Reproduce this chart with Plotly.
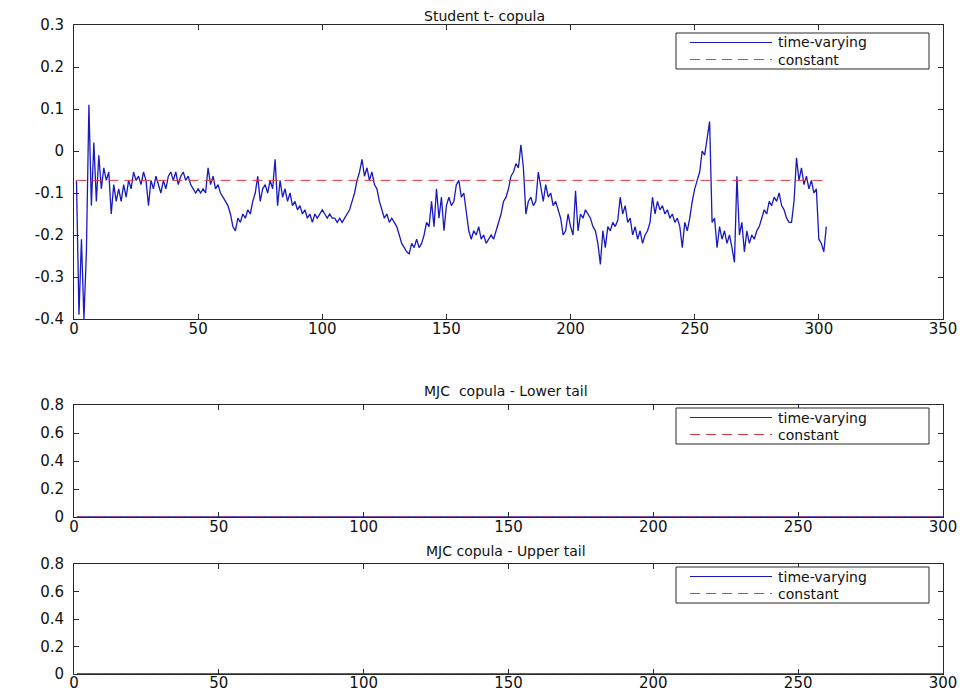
import plotly.graph_objects as go

# ---------------- data ----------------
t = list(range(1, 304))

student_tv = [
    -0.07, -0.39, -0.21, -0.40, -0.24, 0.11, -0.13, 0.02, -0.12, -0.01,
    -0.09, -0.04, -0.07, -0.05, -0.15, -0.08, -0.12, -0.09, -0.12, -0.08,
    -0.11, -0.07, -0.09, -0.05, -0.07, -0.06, -0.08, -0.05, -0.07, -0.13,
    -0.07, -0.09, -0.06, -0.08, -0.10, -0.07, -0.09, -0.06, -0.05, -0.07,
    -0.05, -0.08, -0.06, -0.05, -0.07, -0.06, -0.08, -0.09, -0.10, -0.09,
    -0.10, -0.09, -0.10, -0.04, -0.08, -0.06, -0.09, -0.08, -0.10, -0.11,
    -0.12, -0.13, -0.15, -0.18, -0.19, -0.16, -0.17, -0.15, -0.16, -0.14,
    -0.15, -0.12, -0.10, -0.06, -0.12, -0.09, -0.08, -0.10, -0.07, -0.09,
    -0.02, -0.13, -0.07, -0.11, -0.09, -0.12, -0.10, -0.13, -0.12, -0.14,
    -0.13, -0.15, -0.14, -0.16, -0.15, -0.17, -0.15, -0.16, -0.15, -0.14,
    -0.15, -0.16, -0.15, -0.16, -0.16, -0.17, -0.16, -0.17, -0.16, -0.15,
    -0.14, -0.12, -0.10, -0.07, -0.05, -0.02, -0.06, -0.04, -0.07, -0.05,
    -0.08, -0.09, -0.12, -0.14, -0.16, -0.15, -0.17, -0.16, -0.17, -0.18,
    -0.20, -0.22, -0.23, -0.24, -0.245, -0.22, -0.23, -0.21, -0.23, -0.22,
    -0.20, -0.17, -0.18, -0.12, -0.18, -0.09, -0.16, -0.11, -0.19, -0.13,
    -0.11, -0.13, -0.12, -0.08, -0.07, -0.11, -0.10, -0.15, -0.19, -0.21,
    -0.19, -0.20, -0.18, -0.21, -0.20, -0.22, -0.21, -0.20, -0.21, -0.19,
    -0.17, -0.15, -0.12, -0.11, -0.09, -0.06, -0.05, -0.03, -0.04, 0.015,
    -0.04, -0.15, -0.12, -0.11, -0.13, -0.12, -0.05, -0.09, -0.12, -0.08,
    -0.11, -0.10, -0.13, -0.12, -0.14, -0.16, -0.20, -0.19, -0.15, -0.18,
    -0.20, -0.095, -0.19, -0.15, -0.16, -0.14, -0.15, -0.16, -0.18, -0.19,
    -0.22, -0.27, -0.19, -0.23, -0.18, -0.19, -0.17, -0.18, -0.165, -0.11,
    -0.15, -0.13, -0.17, -0.16, -0.20, -0.18, -0.21, -0.19, -0.22, -0.20,
    -0.19, -0.17, -0.11, -0.15, -0.12, -0.14, -0.13, -0.15, -0.14, -0.16,
    -0.15, -0.17, -0.16, -0.18, -0.23, -0.17, -0.19, -0.16, -0.12, -0.09,
    -0.07, -0.05, 0.00, -0.01, 0.03, 0.07, -0.17, -0.16, -0.23, -0.18,
    -0.21, -0.19, -0.22, -0.20, -0.23, -0.265, -0.06, -0.20, -0.17, -0.24,
    -0.19, -0.22, -0.20, -0.21, -0.19, -0.18, -0.16, -0.14, -0.15, -0.12,
    -0.13, -0.11, -0.12, -0.10, -0.13, -0.14, -0.16, -0.17, -0.17, -0.12,
    -0.016, -0.07, -0.04, -0.08, -0.06, -0.09, -0.07, -0.10, -0.09, -0.21,
    -0.22, -0.24, -0.18,
]
student_const = -0.07

mjc_lower_tv = [
    0, 0, 0, 0, 0, 0, 0, 0, 0, 0, 0, 0, 0, 0, 0, 0, 0, 0, 0, 0, 0, 0, 0, 0, 0, 0, 0, 0, 0, 0,
    0, 0, 0, 0, 0, 0, 0, 0, 0, 0, 0, 0, 0, 0, 0, 0, 0, 0, 0, 0, 0, 0, 0, 0, 0, 0, 0, 0, 0, 0,
    0, 0, 0, 0, 0, 0, 0, 0, 0, 0, 0, 0, 0, 0, 0, 0, 0, 0, 0, 0, 0, 0, 0, 0, 0, 0, 0, 0, 0, 0,
    0, 0, 0, 0, 0, 0, 0, 0, 0, 0, 0, 0, 0, 0, 0, 0, 0, 0, 0, 0, 0, 0, 0, 0, 0, 0, 0, 0, 0, 0,
    0, 0, 0, 0, 0, 0, 0, 0, 0, 0, 0, 0, 0, 0, 0, 0, 0, 0, 0, 0, 0, 0, 0, 0, 0, 0, 0, 0, 0, 0,
    0, 0, 0, 0, 0, 0, 0, 0, 0, 0, 0, 0, 0, 0, 0, 0, 0, 0, 0, 0, 0, 0, 0, 0, 0, 0, 0, 0, 0, 0,
    0, 0, 0, 0, 0, 0, 0, 0, 0, 0, 0, 0, 0, 0, 0, 0, 0, 0, 0, 0, 0, 0, 0, 0, 0, 0, 0, 0, 0, 0,
    0, 0, 0, 0, 0, 0, 0, 0, 0, 0, 0, 0, 0, 0, 0, 0, 0, 0, 0, 0, 0, 0, 0, 0, 0, 0, 0, 0, 0, 0,
    0, 0, 0, 0, 0, 0, 0, 0, 0, 0, 0, 0, 0, 0, 0, 0, 0, 0, 0, 0, 0, 0, 0, 0, 0, 0, 0, 0, 0, 0,
    0, 0, 0, 0, 0, 0, 0, 0, 0, 0, 0, 0, 0, 0, 0, 0, 0, 0, 0, 0, 0, 0, 0, 0, 0, 0, 0, 0, 0, 0,
    0, 0, 0,
]
mjc_lower_const = 0.0

mjc_upper_tv = [
    0, 0, 0, 0, 0, 0, 0, 0, 0, 0, 0, 0, 0, 0, 0, 0, 0, 0, 0, 0, 0, 0, 0, 0, 0, 0, 0, 0, 0, 0,
    0, 0, 0, 0, 0, 0, 0, 0, 0, 0, 0, 0, 0, 0, 0, 0, 0, 0, 0, 0, 0, 0, 0, 0, 0, 0, 0, 0, 0, 0,
    0, 0, 0, 0, 0, 0, 0, 0, 0, 0, 0, 0, 0, 0, 0, 0, 0, 0, 0, 0, 0, 0, 0, 0, 0, 0, 0, 0, 0, 0,
    0, 0, 0, 0, 0, 0, 0, 0, 0, 0, 0, 0, 0, 0, 0, 0, 0, 0, 0, 0, 0, 0, 0, 0, 0, 0, 0, 0, 0, 0,
    0, 0, 0, 0, 0, 0, 0, 0, 0, 0, 0, 0, 0, 0, 0, 0, 0, 0, 0, 0, 0, 0, 0, 0, 0, 0, 0, 0, 0, 0,
    0, 0, 0, 0, 0, 0, 0, 0, 0, 0, 0, 0, 0, 0, 0, 0, 0, 0, 0, 0, 0, 0, 0, 0, 0, 0, 0, 0, 0, 0,
    0, 0, 0, 0, 0, 0, 0, 0, 0, 0, 0, 0, 0, 0, 0, 0, 0, 0, 0, 0, 0, 0, 0, 0, 0, 0, 0, 0, 0, 0,
    0, 0, 0, 0, 0, 0, 0, 0, 0, 0, 0, 0, 0, 0, 0, 0, 0, 0, 0, 0, 0, 0, 0, 0, 0, 0, 0, 0, 0, 0,
    0, 0, 0, 0, 0, 0, 0, 0, 0, 0, 0, 0, 0, 0, 0, 0, 0, 0, 0, 0, 0, 0, 0, 0, 0, 0, 0, 0, 0, 0,
    0, 0, 0, 0, 0, 0, 0, 0, 0, 0, 0, 0, 0, 0, 0, 0, 0, 0, 0, 0, 0, 0, 0, 0, 0, 0, 0, 0, 0, 0,
    0, 0, 0,
]
mjc_upper_const = 0.0

titles = ["Student t- copula", "MJC  copula - Lower tail", "MJC copula - Upper tail"]
legend_labels = ["time-varying", "constant"]

top_xticks = [0, 50, 100, 150, 200, 250, 300, 350]
top_xticktext = ["0", "50", "100", "150", "200", "250", "300", "350"]
top_yticks = [-0.4, -0.3, -0.2, -0.1, 0, 0.1, 0.2, 0.3]
top_yticktext = ["-0.4", "-0.3", "-0.2", "-0.1", "0", "0.1", "0.2", "0.3"]
low_xticks = [0, 50, 100, 150, 200, 250, 300]
low_xticktext = ["0", "50", "100", "150", "200", "250", "300"]
low_yticks = [0, 0.2, 0.4, 0.6, 0.8]
low_yticktext = ["0", "0.2", "0.4", "0.6", "0.8"]

# ---------------- layout geometry ----------------
# The page body has an 8px margin, so the figure is drawn 8px in from the window corner.
OFF = 8
W, H = 966 - OFF, 694 - OFF
# plot area in window pixels (reference picture)
LEFT, RIGHT, TOP, BOTTOM = 74, 943, 25, 674
ML, MR, MT, MB = LEFT - OFF, W - (RIGHT - OFF), TOP - OFF, H - (BOTTOM - OFF)
PW = RIGHT - LEFT
PH = BOTTOM - TOP


def px(x):
    return (x - LEFT) / PW


def py(y):
    return (BOTTOM - y) / PH


BLUE = "rgb(25,25,190)"
RED = "rgb(225,60,70)"
AXC = "#2a2a2a"
FONT = "DejaVu Sans"
TXT = "#111111"

fig = go.Figure()

panels = [
    ("x", "y", student_tv, student_const),
    ("x2", "y2", mjc_lower_tv, mjc_lower_const),
    ("x3", "y3", mjc_upper_tv, mjc_upper_const),
]
for xa, ya, tv, c in panels:
    fig.add_trace(go.Scatter(x=t, y=tv, mode="lines", xaxis=xa, yaxis=ya,
                             line=dict(color=BLUE, width=1.3), showlegend=False,
                             name=legend_labels[0]))
    fig.add_trace(go.Scatter(x=[t[0], t[-1]], y=[c, c], mode="lines", xaxis=xa, yaxis=ya,
                             line=dict(color=RED, width=1, dash="10px,6px"),
                             showlegend=False, name=legend_labels[1]))

axis_common = dict(showline=True, linecolor=AXC, linewidth=1, mirror="ticks",
                   ticks="inside", ticklen=5, tickcolor=AXC, showgrid=False,
                   zeroline=False, tickfont=dict(family=FONT, size=15, color=TXT),
                   automargin=False)

domains = [
    [py(319), 1.0],
    [py(517), py(405)],
    [0.0, py(564)],
]

fig.update_layout(
    width=W, height=H,
    margin=dict(l=ML, r=MR, t=MT, b=MB),
    paper_bgcolor="white", plot_bgcolor="white",
    showlegend=False,
    xaxis=dict(domain=[0, 1], range=[0, 350], tickvals=top_xticks, ticktext=top_xticktext,
               anchor="y", ticklabelstandoff=-4, **axis_common),
    yaxis=dict(domain=domains[0], range=[-0.4, 0.3], tickvals=top_yticks,
               ticktext=top_yticktext, anchor="x", ticklabelstandoff=6, **axis_common),
    xaxis2=dict(domain=[0, 1], range=[0, 300], tickvals=low_xticks, ticktext=low_xticktext,
                anchor="y2", ticklabelstandoff=-4, **axis_common),
    yaxis2=dict(domain=domains[1], range=[0, 0.8], tickvals=low_yticks,
                ticktext=low_yticktext, anchor="x2", ticklabelstandoff=6, **axis_common),
    xaxis3=dict(domain=[0, 1], range=[0, 300], tickvals=low_xticks, ticktext=low_xticktext,
                anchor="y3", ticklabelstandoff=-5, **axis_common),
    yaxis3=dict(domain=domains[2], range=[0, 0.8], tickvals=low_yticks,
                ticktext=low_yticktext, anchor="x3", ticklabelstandoff=6, **axis_common),
)

# titles
title_pos = [(484, 16), (506, 391), (506, 551)]
for text, (tx, ty) in zip(titles, title_pos):
    fig.add_annotation(x=px(tx), y=py(ty), xref="paper", yref="paper", text=text,
                       showarrow=False, xanchor="center", yanchor="middle", borderpad=0,
                       font=dict(family=FONT, size=14, color=TXT))

# MATLAB-style legends
legend_tops = [33, 408, 567]
for top in legend_tops:
    fig.add_shape(type="rect", xref="paper", yref="paper",
                  x0=px(676), x1=px(929), y0=py(top), y1=py(top + 36),
                  line=dict(color=AXC, width=1), fillcolor="white", layer="above")
    for i, (lab, col, dash) in enumerate(zip(legend_labels, [BLUE, RED], ["solid", "10px,6px"])):
        yy = top + 9.5 + 17 * i
        fig.add_shape(type="line", xref="paper", yref="paper",
                      x0=px(690), x1=px(772), y0=py(yy), y1=py(yy),
                      line=dict(color=col, width=1, dash=dash), layer="above")
        fig.add_annotation(x=px(777), y=py(yy), xref="paper", yref="paper", text=lab,
                           showarrow=False, xanchor="left", yanchor="middle", borderpad=0,
                           font=dict(family=FONT, size=14, color=TXT))

fig.write_html("out.html")
